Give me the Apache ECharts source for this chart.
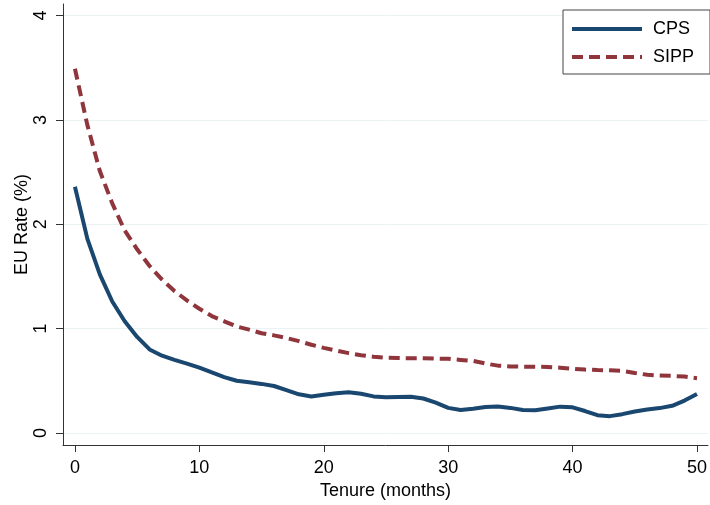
<!DOCTYPE html>
<html>
<head>
<meta charset="utf-8">
<script src="https://cdn.jsdelivr.net/npm/echarts@6/dist/echarts.min.js"></script>
<style>
html,body{margin:0;padding:0;background:#fff;}
#chart{width:710px;height:505px;}
</style>
</head>
<body>
<div id="chart"></div>
<script>
const months = [];
for (let m = 0; m <= 50; m++) months.push(m);
const cps = [2.36,1.86,1.52,1.26,1.07,0.92,0.80,0.74,0.70,0.665,0.626,0.58,0.535,0.50,0.485,0.47,0.45,0.41,0.37,0.35,0.365,0.38,0.389,0.375,0.35,0.341,0.345,0.347,0.33,0.29,0.24,0.22,0.232,0.248,0.253,0.24,0.22,0.218,0.235,0.252,0.245,0.21,0.17,0.161,0.18,0.206,0.225,0.238,0.26,0.31,0.373];
const sipp = [3.49,2.95,2.51,2.20,1.94,1.76,1.60,1.47,1.36,1.27,1.19,1.12,1.07,1.02,0.99,0.955,0.935,0.91,0.88,0.845,0.815,0.79,0.765,0.745,0.73,0.72,0.718,0.716,0.715,0.713,0.71,0.70,0.69,0.665,0.645,0.637,0.635,0.635,0.633,0.625,0.615,0.607,0.603,0.60,0.595,0.575,0.557,0.55,0.547,0.54,0.525];
const xTicks = [0,10,20,30,40,50];
const yTicks = [0,1,2,3,4];

const FONT = "'Liberation Sans', Arial, Helvetica, sans-serif";
const chart = echarts.init(document.getElementById('chart'), null, {renderer:'canvas'});
chart.setOption({
  animation:false,
  backgroundColor:'#fff',
  grid:{left:63, top:4, right:0, bottom:55, containLabel:false},
  legend:{
    orient:'vertical', left:563, top:10,
    padding:[10,16,8,7], itemGap:10, itemWidth:70, itemHeight:14,
    borderColor:'#444', borderWidth:1, backgroundColor:'#fff',
    itemStyle:{opacity:0},
    lineStyle:{width:4},
    textStyle:{fontFamily:FONT, fontSize:18, lineHeight:16, color:'#000', padding:[0,0,0,6]},
    data:['CPS','SIPP']
  },
  xAxis:{
    type:'value', min:-0.96, max:50.88,
    name:'Tenure (months)', nameLocation:'middle', nameGap:33,
    nameTextStyle:{fontFamily:FONT, fontSize:18, color:'#000'},
    axisLine:{show:true, onZero:false, lineStyle:{color:'#333', width:1}},
    axisTick:{show:true, length:7, customValues:xTicks, lineStyle:{color:'#333'}},
    axisLabel:{customValues:xTicks, fontFamily:FONT, fontSize:18, color:'#000', margin:14},
    splitLine:{show:false}
  },
  yAxis:{
    type:'value', min:-0.1166, max:4.111,
    name:'EU Rate (%)', nameLocation:'middle', nameGap:32, nameMoveOverlap:false,
    nameTextStyle:{fontFamily:FONT, fontSize:18, color:'#000'},
    axisLine:{show:true, onZero:false, lineStyle:{color:'#333', width:1}},
    axisTick:{show:true, length:7, customValues:yTicks, lineStyle:{color:'#333'}},
    axisLabel:{customValues:yTicks, rotate:90, fontFamily:FONT, fontSize:18, color:'#000', margin:13},
    splitLine:{show:true, lineStyle:{color:'#eaf2f3', width:1}}
  },
  series:[
    {name:'CPS', type:'line', data:months.map((m,i)=>[m,cps[i]]), symbol:'none', smooth:false,
     lineStyle:{color:'#1a476f', width:4}, itemStyle:{color:'#1a476f'}},
    {name:'SIPP', type:'line', data:months.map((m,i)=>[m,sipp[i]]), symbol:'none', smooth:false,
     lineStyle:{color:'#90353b', width:4, type:[11,6], cap:'butt'}, itemStyle:{color:'#90353b'}}
  ]
});
</script>
</body>
</html>
